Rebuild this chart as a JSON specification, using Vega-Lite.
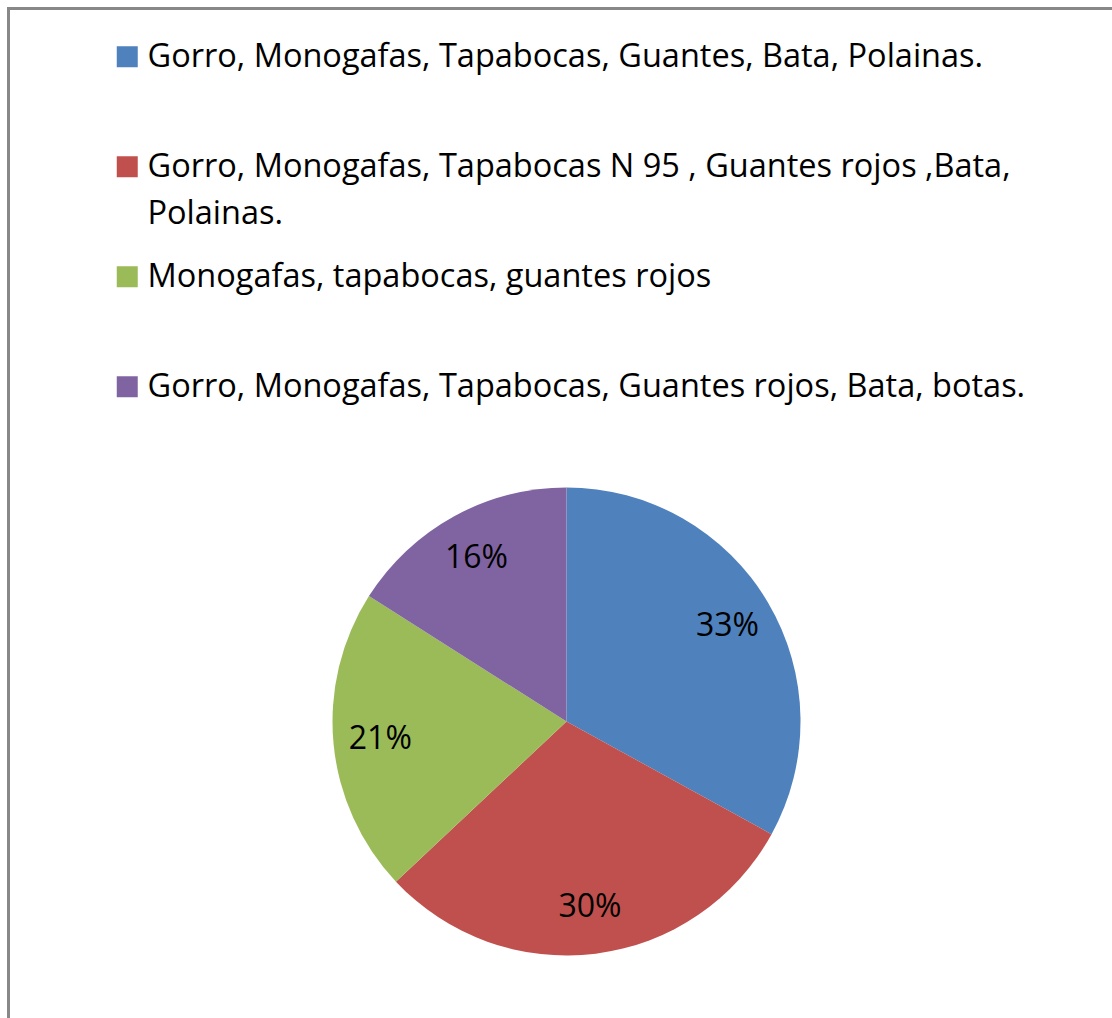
{
  "$schema": "https://vega.github.io/schema/vega-lite/v6.json",
  "padding": {"left": 5.5, "top": 5.5, "right": -9.5, "bottom": 0},
  "background": "white",
  "spacing": 0,
  "bounds": "flush",
  "config": {"view": {"stroke": null}, "font": "Open Sans"},
  "data": {
    "values": [
      {"item": "Gorro, Monogafas, Tapabocas, Guantes, Bata, Polainas.", "value": 33, "label": "33%", "order": 1},
      {"item": " Gorro, Monogafas, Tapabocas N 95 , Guantes rojos ,Bata,|Polainas.", "value": 30, "label": "30%", "order": 2},
      {"item": "Monogafas, tapabocas, guantes rojos", "value": 21, "label": "21%", "order": 3},
      {"item": "Gorro, Monogafas, Tapabocas, Guantes rojos, Bata, botas.", "value": 16, "label": "16%", "order": 4}
    ]
  },
  "vconcat": [
    {
      "width": 1116,
      "height": 412.5,
      "view": {"stroke": "#888888", "strokeWidth": 3, "strokeCap": "square", "strokeDash": [1116, 1528.5, 412.5]},
      "mark": {"type": "square", "filled": true, "opacity": 0},
      "encoding": {
        "color": {
          "field": "item",
          "type": "nominal",
          "sort": null,
          "scale": {
            "domain": [
              "Gorro, Monogafas, Tapabocas, Guantes, Bata, Polainas.",
              " Gorro, Monogafas, Tapabocas N 95 , Guantes rojos ,Bata,|Polainas.",
              "Monogafas, tapabocas, guantes rojos",
              "Gorro, Monogafas, Tapabocas, Guantes rojos, Bata, botas."
            ],
            "range": ["#4F81BD", "#C0504D", "#9BBB59", "#8064A2"]
          },
          "legend": {
            "orient": "none",
            "legendX": 102.5,
            "legendY": 32,
            "title": null,
            "direction": "vertical",
            "columns": 1,
            "padding": 0,
            "symbolType": "square",
            "symbolSize": 441,
            "symbolStrokeWidth": 0,
            "symbolOpacity": 1,
            "labelFont": "Open Sans",
            "labelFontSize": 32.5,
            "labelColor": "black",
            "labelLimit": 1100,
            "labelOffset": 4,
            "rowPadding": 30,
            "gridAlign": "all",
            "labelExpr": "split(datum.label, '|')",
            "encode": {"labels": {"update": {"lineHeight": {"value": 47}}}}
          }
        }
      }
    },
    {
      "width": 1116,
      "height": 600,
      "view": {"stroke": "#888888", "strokeWidth": 3, "strokeCap": "square", "strokeDash": [0, 2832, 600]},
      "encoding": {
        "theta": {"field": "value", "type": "quantitative", "stack": true},
        "order": {"field": "order", "type": "quantitative"}
      },
      "layer": [
        {
          "mark": {"type": "arc", "outerRadius": 234},
          "encoding": {
            "color": {
              "field": "item",
              "type": "nominal",
              "sort": null,
              "scale": {
                "domain": [
                  "Gorro, Monogafas, Tapabocas, Guantes, Bata, Polainas.",
                  " Gorro, Monogafas, Tapabocas N 95 , Guantes rojos ,Bata,|Polainas.",
                  "Monogafas, tapabocas, guantes rojos",
                  "Gorro, Monogafas, Tapabocas, Guantes rojos, Bata, botas."
                ],
                "range": ["#4F81BD", "#C0504D", "#9BBB59", "#8064A2"]
              },
              "legend": null
            }
          }
        },
        {
          "mark": {"type": "text", "radius": 187, "fontSize": 32, "font": "Open Sans", "color": "black"},
          "encoding": {"text": {"field": "label"}}
        }
      ]
    }
  ]
}
